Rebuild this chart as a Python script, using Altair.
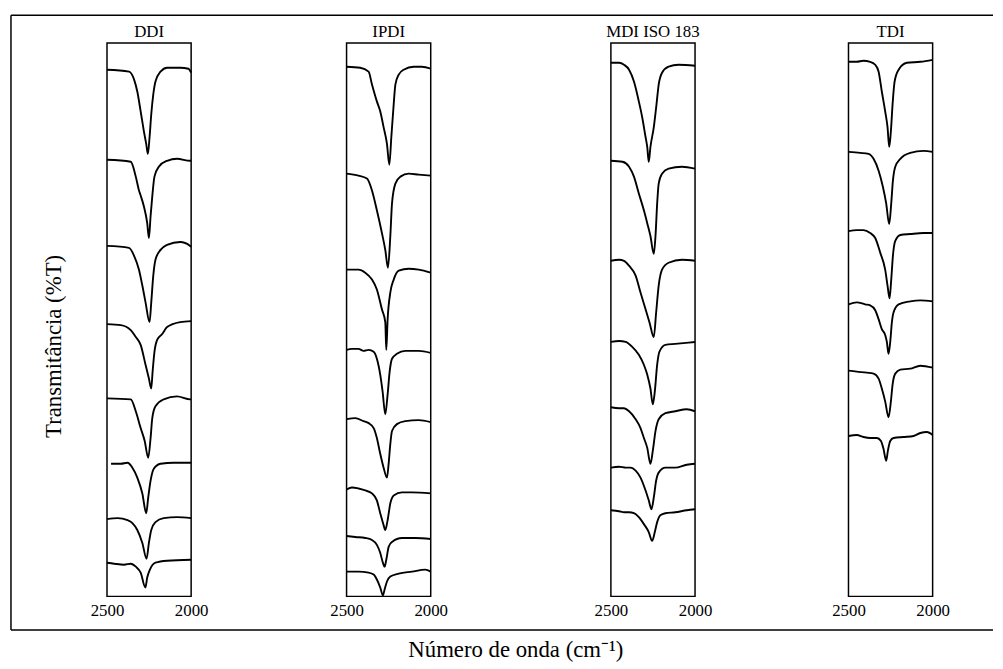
import altair as alt
import pandas as pd

FONT = "Liberation Serif"
PANEL_NAMES = ["DDI", "IPDI", "MDI ISO 183", "TDI"]
X_TICKS = [2500, 2000]
Y_TITLE = "Transmitância (%T)"
X_TITLE = "Número de onda (cm⁻¹)"

# ---- spectra: wavenumber (cm-1) and transmittance (arbitrary, stacked) ----
DDI_WN = [
    [2500, 2369, 2339, 2320, 2300, 2281, 2267, 2257, 2247, 2237, 2225, 2212, 2182, 2143, 2065, 2016, 2000],
    [2500, 2359, 2329, 2310, 2300, 2281, 2261, 2251, 2241, 2231, 2218, 2192, 2143, 2084, 2006, 2000],
    [2500, 2369, 2339, 2310, 2290, 2271, 2247, 2237, 2225, 2212, 2182, 2143, 2065, 2006, 2000],
    [2500, 2418, 2359, 2329, 2300, 2271, 2251, 2237, 2229, 2218, 2202, 2172, 2143, 2065, 2000],
    [2500, 2359, 2329, 2300, 2276, 2255, 2241, 2231, 2212, 2163, 2084, 2006, 2000],
    [2476, 2418, 2378, 2349, 2320, 2290, 2267, 2255, 2241, 2222, 2182, 2104, 2000],
    [2500, 2437, 2378, 2349, 2320, 2290, 2265, 2251, 2237, 2212, 2163, 2084, 2000],
    [2500, 2457, 2398, 2359, 2329, 2300, 2272, 2261, 2245, 2212, 2143, 2000],
]
DDI_T = [
    [532, 530, 522, 510, 490, 470, 457, 447, 464, 487, 507, 520, 530, 534, 534, 533, 529],
    [441, 439, 424, 410, 405, 394, 377, 362, 384, 404, 424, 434, 440, 442, 440, 440],
    [354, 352, 344, 330, 314, 297, 277, 297, 324, 340, 350, 355, 358, 354, 353],
    [275, 274, 269, 262, 254, 234, 220, 210, 227, 247, 259, 265, 272, 277, 278],
    [200, 199, 187, 170, 157, 140, 160, 180, 192, 199, 202, 199, 199],
    [134, 134, 135, 130, 120, 104, 84, 100, 117, 129, 134, 135, 135],
    [78, 79, 77, 74, 67, 54, 38, 54, 67, 75, 79, 80, 79],
    [34, 33, 32, 33, 30, 24, 9, 19, 27, 34, 36, 37],
]

IPDI_WN = [
    [2500, 2419, 2369, 2349, 2320, 2300, 2280, 2260, 2246, 2234, 2220, 2210, 2190, 2161, 2101, 2052, 2000],
    [2500, 2429, 2379, 2349, 2320, 2290, 2270, 2254, 2240, 2230, 2210, 2180, 2131, 2071, 2000],
    [2500, 2429, 2389, 2349, 2320, 2290, 2270, 2264, 2256, 2240, 2220, 2190, 2131, 2071, 2000],
    [2500, 2468, 2429, 2399, 2369, 2339, 2320, 2300, 2286, 2270, 2256, 2244, 2230, 2201, 2151, 2071, 2000],
    [2500, 2448, 2399, 2369, 2339, 2320, 2300, 2280, 2260, 2250, 2240, 2230, 2201, 2151, 2071, 2000],
    [2500, 2468, 2429, 2389, 2349, 2320, 2300, 2280, 2270, 2256, 2240, 2220, 2171, 2111, 2000],
    [2500, 2448, 2389, 2349, 2320, 2300, 2286, 2274, 2264, 2250, 2230, 2171, 2091, 2000],
    [2500, 2429, 2369, 2339, 2320, 2300, 2284, 2274, 2260, 2240, 2190, 2111, 2032, 2000],
]
IPDI_T = [
    [535, 534, 530, 517, 500, 490, 474, 457, 436, 464, 497, 517, 527, 532, 535, 535, 533],
    [427, 425, 422, 410, 390, 367, 350, 332, 364, 397, 417, 424, 427, 426, 425],
    [330, 330, 327, 320, 310, 290, 277, 249, 280, 307, 320, 329, 331, 330, 327],
    [249, 250, 250, 248, 249, 247, 240, 224, 207, 184, 204, 227, 240, 245, 248, 248, 246],
    [179, 180, 177, 175, 170, 160, 144, 130, 120, 134, 154, 167, 174, 177, 178, 176],
    [108, 110, 109, 107, 104, 97, 84, 72, 67, 77, 94, 102, 105, 105, 104],
    [61, 60, 59, 57, 52, 44, 35, 30, 37, 50, 55, 59, 59, 58],
    [25, 25, 24, 22, 17, 9, 1, 7, 15, 20, 23, 25, 27, 25],
]

MDI_WN = [
    [2500, 2451, 2422, 2392, 2363, 2334, 2314, 2294, 2284, 2275, 2265, 2245, 2229, 2216, 2196, 2157, 2098, 2000],
    [2500, 2431, 2392, 2363, 2334, 2304, 2284, 2265, 2245, 2235, 2225, 2216, 2196, 2157, 2078, 2000],
    [2500, 2451, 2422, 2392, 2353, 2324, 2294, 2271, 2245, 2231, 2216, 2196, 2157, 2078, 2000],
    [2500, 2451, 2412, 2373, 2334, 2304, 2284, 2265, 2251, 2239, 2225, 2212, 2176, 2118, 2000],
    [2500, 2451, 2422, 2392, 2353, 2324, 2304, 2284, 2265, 2251, 2235, 2216, 2176, 2118, 2049, 2000],
    [2500, 2451, 2412, 2382, 2353, 2324, 2294, 2275, 2259, 2245, 2231, 2216, 2176, 2118, 2049, 2000],
    [2500, 2451, 2422, 2392, 2363, 2334, 2304, 2275, 2255, 2239, 2225, 2206, 2176, 2118, 2049, 2000],
]
MDI_T = [
    [539, 539, 537, 532, 520, 500, 484, 464, 454, 439, 454, 474, 497, 517, 529, 535, 537, 536],
    [440, 439, 434, 424, 407, 390, 377, 364, 346, 364, 397, 417, 427, 432, 434, 432],
    [339, 340, 339, 334, 324, 307, 290, 277, 262, 287, 314, 330, 337, 340, 339],
    [257, 258, 257, 252, 244, 234, 224, 210, 194, 207, 234, 247, 254, 255, 257],
    [191, 190, 190, 187, 179, 170, 160, 150, 134, 147, 167, 179, 185, 187, 189, 187],
    [130, 131, 130, 130, 127, 120, 107, 97, 88, 100, 117, 125, 130, 130, 133, 134],
    [87, 86, 85, 85, 84, 80, 73, 65, 56, 65, 75, 82, 84, 85, 87, 88],
]

TDI_WN = [
    [2500, 2451, 2411, 2371, 2341, 2321, 2302, 2282, 2268, 2258, 2248, 2238, 2226, 2202, 2153, 2073, 2000],
    [2500, 2431, 2381, 2351, 2321, 2296, 2276, 2258, 2246, 2236, 2222, 2192, 2133, 2054, 2000],
    [2500, 2451, 2411, 2371, 2341, 2311, 2282, 2268, 2256, 2246, 2236, 2222, 2192, 2133, 2054, 2000],
    [2500, 2451, 2401, 2371, 2341, 2321, 2302, 2282, 2272, 2262, 2252, 2242, 2232, 2202, 2133, 2073, 2000],
    [2500, 2451, 2391, 2351, 2321, 2302, 2282, 2262, 2248, 2238, 2222, 2192, 2133, 2073, 2000],
    [2500, 2451, 2411, 2371, 2331, 2307, 2292, 2276, 2266, 2252, 2232, 2173, 2113, 2073, 2034, 2000],
]
TDI_T = [
    [540, 540, 541, 540, 537, 530, 510, 490, 474, 454, 470, 497, 520, 532, 539, 540, 542],
    [449, 448, 447, 442, 430, 414, 397, 376, 397, 420, 434, 442, 448, 450, 449],
    [369, 370, 370, 367, 362, 347, 330, 314, 301, 320, 344, 359, 365, 366, 367, 367],
    [295, 297, 295, 294, 289, 280, 270, 264, 257, 245, 257, 277, 287, 295, 298, 299, 298],
    [228, 227, 226, 225, 220, 210, 197, 181, 197, 214, 225, 229, 230, 233, 231],
    [162, 163, 161, 160, 160, 157, 149, 137, 147, 157, 160, 161, 162, 165, 166, 163],
]

PANEL_W = 85
PANEL_H = 559
GAPS = [157, 182, 155]

one = pd.DataFrame({"k": [0]})


def build_frame(name, wn_lists, t_lists):
    rows = []
    for s, (wl, tl) in enumerate(zip(wn_lists, t_lists)):
        for i, (w, t) in enumerate(zip(wl, tl)):
            rows.append({"panel": name, "spectrum": s + 1, "i": i, "wn": w, "T": t})
    return pd.DataFrame(rows)


def panel(name, df, extra=(), first=False):
    x = alt.X(
        "wn:Q",
        scale=alt.Scale(domain=[2500, 2000], nice=False, zero=False),
        axis=alt.Axis(
            values=X_TICKS, title=None, ticks=False, domain=False, grid=False,
            labelFont=FONT, labelFontSize=17, labelPadding=6, labelColor="black",
            labelFlush=False, format="d",
        ),
    )
    if first:
        yaxis = alt.Axis(
            title=Y_TITLE, labels=False, ticks=False, domain=False, grid=False,
            titleFont=FONT, titleFontSize=23, titleFontWeight="normal", titleColor="black",
            titleX=-54, titleY=306, titleAngle=270, titleAlign="center", titleBaseline="middle",
        )
    else:
        yaxis = None
    y = alt.Y("T:Q", scale=alt.Scale(domain=[0, PANEL_H], nice=False, zero=False), axis=yaxis)
    lines = (
        alt.Chart(df)
        .mark_line(color="black", strokeWidth=1.9, interpolate="monotone")
        .encode(x=x, y=y, detail="spectrum:N", order="i:Q")
    )
    head = alt.Chart(one).mark_text(
        text=name, font=FONT, fontSize=17, color="black", align="center", baseline="alphabetic"
    ).encode(x=alt.value(PANEL_W / 2), y=alt.value(-6))
    return alt.layer(lines, head, *extra).properties(width=PANEL_W, height=PANEL_H)


frame_top = alt.Chart(one).mark_rule(color="black", strokeWidth=1.5).encode(
    x=alt.value(-97), x2=alt.value(895), y=alt.value(-28))
frame_bottom = alt.Chart(one).mark_rule(color="black", strokeWidth=1.5).encode(
    x=alt.value(-97), x2=alt.value(895), y=alt.value(593))
frame_left = alt.Chart(one).mark_rule(color="black", strokeWidth=1.5).encode(
    x=alt.value(-97), y=alt.value(-28), y2=alt.value(593))
x_title = alt.Chart(one).mark_text(
    text=X_TITLE, font=FONT, fontSize=23, color="black", align="center", baseline="middle"
).encode(x=alt.value(413), y=alt.value(613))


def spacer(w):
    return alt.Chart(one).mark_text(text="").encode(
        x=alt.value(0), y=alt.value(0)
    ).properties(width=w, height=PANEL_H, view=alt.ViewBackground(stroke="transparent"))


ddi = panel(PANEL_NAMES[0], build_frame("DDI", DDI_WN, DDI_T),
            extra=(frame_top, frame_bottom, frame_left, x_title), first=True)
ipdi = panel(PANEL_NAMES[1], build_frame("IPDI", IPDI_WN, IPDI_T))
mdi = panel(PANEL_NAMES[2], build_frame("MDI", MDI_WN, MDI_T))
tdi = panel(PANEL_NAMES[3], build_frame("TDI", TDI_WN, TDI_T))

chart = (
    alt.hconcat(ddi, spacer(GAPS[0]), ipdi, spacer(GAPS[1]), mdi, spacer(GAPS[2]), tdi,
                spacing=0, bounds="flush")
    .properties(padding={"left": 1, "top": 2, "right": 0, "bottom": 0}, background="white")
    .configure_view(stroke="black", strokeWidth=1.5)
    .configure_axis(labelFont=FONT, titleFont=FONT)
    .configure_text(font=FONT)
)

chart.save("out.html", embed_options={"renderer": "svg", "actions": False})
